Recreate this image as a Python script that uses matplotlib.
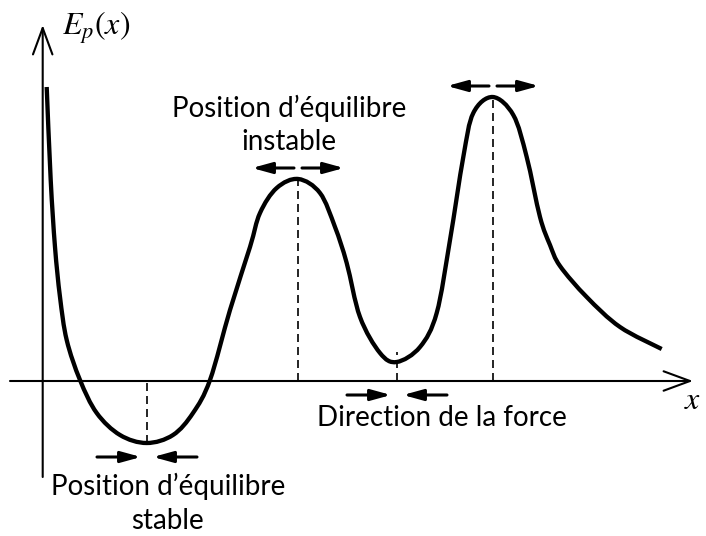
import matplotlib
matplotlib.use("Agg")
import matplotlib.pyplot as plt
from matplotlib.path import Path
from matplotlib.patches import PathPatch

# Curve anchors: x position (px) and potential energy (px above x axis)
curve_x = [46.7, 50.7, 55, 60, 66.7, 80, 96.7, 120, 146.7, 173, 193, 210, 230, 250, 260, 276.7,
           298.3, 320, 335, 346.7, 360, 380, 396.7, 420, 436.7, 450, 463.3, 473.3, 492.7, 513.3,
           526.7, 540, 550, 560, 586.7, 620, 661.7]
curve_e = [294, 201, 134, 84, 41, 1, -32, -54, -62, -54, -32, 1, 71, 134, 168, 193,
           202, 188, 154, 118, 64, 28, 19, 34, 68, 141, 224, 268, 284, 266,
           224, 164, 136, 115, 84, 54, 32]

# Equilibrium positions (x px)
eq_x = [147, 298, 397, 493]
eq_dash_top = [0, 202, 29, 284]
eq_dash_bottom = [-62, 0, 0, 0]
eq_kind = ["stable", "unstable", "stable", "unstable"]
arrow_level = [-76, 213, -14, 295]

plt.rcParams['font.family'] = ['Lato', 'DejaVu Sans']
plt.rcParams['mathtext.fontset'] = 'stix'

fig = plt.figure(figsize=(7.06, 5.36), dpi=100)
ax = fig.add_axes([0, 0, 1, 1])
ax.set_xlim(0, 706)
ax.set_ylim(381 - 536, 381)
ax.axis('off')


def smooth_path(xs, ys):
    # Catmull-Rom anchors rendered as cubic Bezier segments
    pts = list(zip(xs, ys))
    verts = [pts[0]]
    codes = [Path.MOVETO]
    n = len(pts)
    for i in range(n - 1):
        p0 = pts[i - 1] if i > 0 else pts[i]
        p1 = pts[i]
        p2 = pts[i + 1]
        p3 = pts[i + 2] if i + 2 < n else pts[i + 1]
        c1 = (p1[0] + (p2[0] - p0[0]) / 6, p1[1] + (p2[1] - p0[1]) / 6)
        c2 = (p2[0] - (p3[0] - p1[0]) / 6, p2[1] - (p3[1] - p1[1]) / 6)
        verts += [c1, c2, p2]
        codes += [Path.CURVE4] * 3
    return Path(verts, codes)


# axes with open arrows
axstyle = dict(arrowstyle='->,head_length=1.9,head_width=0.7', lw=1.5, color='black',
               shrinkA=0, shrinkB=0)
ax.annotate('', xy=(693, 0), xytext=(10, 0), arrowprops=axstyle)
ax.annotate('', xy=(42.7, 381 - 25), xytext=(42.7, 381 - 477), arrowprops=axstyle)

ax.add_patch(PathPatch(smooth_path(curve_x, curve_e), fill=False, edgecolor='black', lw=3.1,
                       joinstyle='round', capstyle='butt'))

for x, top, bot in zip(eq_x, eq_dash_top, eq_dash_bottom):
    ax.plot([x, x], [bot, top], color='black', lw=1.2, linestyle=(0, (4.8, 3)))

astyle = dict(arrowstyle='-|>,head_length=1.2,head_width=0.33', lw=2.2, color='black',
              shrinkA=0, shrinkB=0)
for x, kind, y in zip(eq_x, eq_kind, arrow_level):
    if kind == "stable":
        ax.annotate('', xy=(x - 6, y), xytext=(x - 50, y), arrowprops=astyle)
        ax.annotate('', xy=(x + 6, y), xytext=(x + 50, y), arrowprops=astyle)
    else:
        ax.annotate('', xy=(x - 46, y), xytext=(x - 4, y), arrowprops=astyle)
        ax.annotate('', xy=(x + 46, y), xytext=(x + 4, y), arrowprops=astyle)

fs = 20
ax.text(168, 381 - 486, "Position d’équilibre", ha='center', va='center', fontsize=fs)
ax.text(168, 381 - 521, "stable", ha='center', va='center', fontsize=fs)
ax.text(289, 381 - 108, "Position d’équilibre", ha='center', va='center', fontsize=fs)
ax.text(289, 381 - 142, "instable", ha='center', va='center', fontsize=fs)
ax.text(442, 381 - 418, "Direction de la force", ha='center', va='center', fontsize=fs)

ax.text(62, 381 - 28, r"$E_p(x)$", ha='left', va='center', fontsize=23)
ax.text(684, 381 - 400, r"$x$", ha='left', va='center', fontsize=23)

fig.savefig("out.png", dpi=100)
